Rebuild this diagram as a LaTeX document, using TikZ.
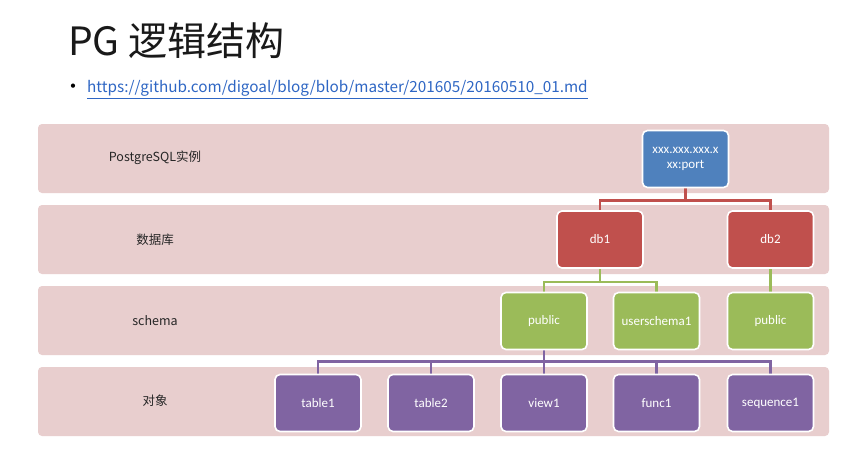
\documentclass[tikz,border=0pt]{standalone}
\usepackage{fontspec}
\setmainfont{Carlito}
\newfontfamily\cjk{Noto Sans CJK SC}
\usetikzlibrary{calc}
\definecolor{bandc}{RGB}{232,206,206}
\definecolor{pgblue}{RGB}{79,129,189}
\definecolor{pgred}{RGB}{192,80,77}
\definecolor{pggreen}{RGB}{155,187,89}
\definecolor{pgpurple}{RGB}{128,100,162}
\definecolor{linkc}{RGB}{46,102,196}
\pgfdeclarelayer{bg}
\pgfdeclarelayer{edges}
\pgfsetlayers{bg,edges,main}
\tikzset{
  band/.style={fill=bandc, draw=none, rounded corners=4pt},
  boxbase/.style={draw=white, line width=1.6pt, rounded corners=5pt,
    minimum width=86pt, minimum height=57pt, inner sep=1pt,
    text=white, font=\fontsize{13}{15.5}\selectfont, align=center},
  bluebox/.style={boxbase, fill=pgblue},
  redbox/.style={boxbase, fill=pgred},
  greenbox/.style={boxbase, fill=pggreen},
  purplebox/.style={boxbase, fill=pgpurple},
  conn/.style={line width=2.6pt},
  bandlabel/.style={font=\cjk\fontsize{12.5}{15}\selectfont, text=black!85},
}
\begin{document}
\begin{tikzpicture}[x=1pt,y=-1pt]
\useasboundingbox (0,0) rectangle (856,455);

% title
\node[anchor=base west, inner sep=0, font=\cjk\fontsize{39}{44}\selectfont, text=black!90] (title) at (68,55) {PG 逻辑结构};
\node[anchor=center, inner sep=0, font=\fontsize{12}{12}\selectfont] (bullet) at (73,87) {\textbullet};
\node[anchor=base west, inner sep=0, font=\cjk\fontsize{15.3}{17}\selectfont, text=linkc] (url) at (87,92.5) {\underline{https://github.com/digoal/blog/blob/master/201605/20160510\_01.md}};

% bands
\begin{pgfonlayer}{bg}
\fill[white] (0,0) rectangle (856,455);
\fill[band] (38,124) rectangle (829,193);
\fill[band] (38,205) rectangle (829,274);
\fill[band] (38,286) rectangle (829,355);
\fill[band] (38,367) rectangle (829,436);
\end{pgfonlayer}

\node[bandlabel] (l1) at (155,158) {PostgreSQL实例};
\node[bandlabel] (l2) at (155,239.5) {数据库};
\node[bandlabel] (l3) at (155,321) {schema};
\node[bandlabel] (l4) at (155,401) {对象};

% boxes
\node[bluebox] (inst) at (685.5,159) {xxx.xxx.xxx.x\\xx:port};
\node[redbox] (db1) at (600,239.5) {db1};
\node[redbox] (db2) at (770.5,239.5) {db2};
\node[greenbox] (pub1) at (544,321) {public};
\node[greenbox] (us1) at (656.5,321) {userschema1};
\node[greenbox] (pub2) at (770.5,321) {public};
\node[purplebox] (t1) at (318,403) {table1};
\node[purplebox] (t2) at (431,403) {table2};
\node[purplebox] (v1) at (544,403) {view1};
\node[purplebox] (f1) at (656.5,403) {func1};
\node[purplebox] (s1) at (770.5,403) {sequence1};

% connectors
\begin{pgfonlayer}{edges}
\draw[conn, pgred] (inst.south) -- ++(0,12) coordinate (j1) -| (db1.north);
\draw[conn, pgred] (j1) -| (db2.north);
\draw[conn, pggreen] (db1.south) -- ++(0,13) coordinate (j2) -| (pub1.north);
\draw[conn, pggreen] (j2) -| (us1.north);
\draw[conn, pggreen] (db2.south) -- (pub2.north);
\draw[conn, pgpurple] (pub1.south) -- ++(0,11) coordinate (j3) -| (t1.north);
\draw[conn, pgpurple] (j3) -| (t2.north);
\draw[conn, pgpurple] (j3) -- (v1.north);
\draw[conn, pgpurple] (j3) -| (f1.north);
\draw[conn, pgpurple] (j3) -| (s1.north);
\end{pgfonlayer}
\end{tikzpicture}
\end{document}
